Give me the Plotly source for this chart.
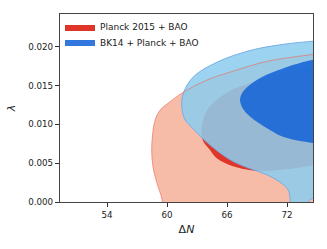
import plotly.graph_objects as go

# ---- data ----
# Planck 2015 + BAO, 95% contour (delta N, lambda)
planck95_x = [59.55, 59.5, 59.0, 58.6, 58.47, 58.55, 58.8, 59.3, 60.3, 61.47, 64.0, 66.63, 70.0, 74.6, 77.0, 77.0]
planck95_y = [-0.002, 0.0003, 0.0024, 0.0045, 0.0067, 0.0085, 0.0105, 0.0118, 0.0129, 0.0140, 0.0157, 0.01685, 0.0181, 0.0190, 0.0194, -0.002]
# Planck 2015 + BAO, 68% contour
planck68_x = [77.0, 74.6, 72.0, 70.0, 68.3, 66.6, 65.0, 64.1, 63.6, 63.45, 63.6, 64.3, 65.0, 66.6, 68.4, 70.0, 72.0, 74.6, 77.0]
planck68_y = [0.0178, 0.0174, 0.0167, 0.0160, 0.0153, 0.0145, 0.0132, 0.0120, 0.0105, 0.0090, 0.0079, 0.0067, 0.0056, 0.0046, 0.0041, 0.0040, 0.0042, 0.0047, 0.0050]
# BK14 + Planck + BAO, 95% contour
bk95_x = [72.35, 72.3, 72.13, 71.47, 70.0, 68.3, 66.63, 65.0, 63.63, 62.63, 61.8, 61.47, 61.63, 62.63, 65.0, 68.3, 71.63, 74.6, 77.0, 77.0, 74.6, 74.1, 73.7]
bk95_y = [-0.002, 0.0005, 0.0015, 0.0024, 0.0035, 0.0043, 0.0052, 0.0066, 0.0081, 0.0094, 0.0106, 0.0123, 0.0140, 0.0161, 0.0180, 0.0195, 0.0203, 0.0207, 0.0210, 0.0015, 0.0005, 0.0, -0.002]
# BK14 + Planck + BAO, 68% contour
bk68_x = [77.0, 74.6, 71.6, 70.0, 68.3, 67.6, 67.3, 67.6, 68.3, 70.0, 71.6, 74.6, 77.0]
bk68_y = [0.0187, 0.0183, 0.0172, 0.0164, 0.0151, 0.0142, 0.0132, 0.0120, 0.0110, 0.0095, 0.0084, 0.0076, 0.0073]

labels = ["Planck 2015 + BAO", "BK14 + Planck + BAO"]
x_ticks = [54, 60, 66, 72]
y_ticks = [0.000, 0.005, 0.010, 0.015, 0.020]

fig = go.Figure()
spl = dict(shape="spline", smoothing=1.0)

fig.add_trace(go.Scatter(x=planck95_x, y=planck95_y, mode="lines", fill="toself",
                         fillcolor="#f7bca8", line=dict(color="rgba(0,0,0,0)", width=0, **spl),
                         showlegend=False, hoverinfo="skip"))
fig.add_trace(go.Scatter(x=planck68_x, y=planck68_y, mode="lines", fill="toself",
                         fillcolor="#e0362a", line=dict(color="#e0362a", width=0, **spl),
                         name=labels[0], showlegend=True, legend="legend", hoverinfo="skip"))
fig.add_trace(go.Scatter(x=bk95_x, y=bk95_y, mode="lines", fill="toself",
                         fillcolor="rgba(141,204,238,0.87)", line=dict(color="#6ea8e6", width=0.9, **spl),
                         showlegend=False, hoverinfo="skip"))
fig.add_trace(go.Scatter(x=bk68_x, y=bk68_y, mode="lines", fill="toself",
                         fillcolor="rgba(20,100,215,0.87)", line=dict(color="rgba(0,0,0,0)", width=0, **spl),
                         name=labels[1], showlegend=True, legend="legend2", hoverinfo="skip"))
# Planck 95% outline on top
fig.add_trace(go.Scatter(x=planck95_x, y=planck95_y, mode="lines",
                         line=dict(color="rgba(232,110,95,0.75)", width=0.9, **spl),
                         showlegend=False, hoverinfo="skip"))

leg = dict(x=0.0, xanchor="left", yanchor="middle", bgcolor="rgba(0,0,0,0)",
           font=dict(size=9, family="DejaVu Sans", color="#222"), itemwidth=30)

fig.update_layout(
    width=327, height=249,
    margin=dict(l=60, r=14, t=14, b=47),
    paper_bgcolor="white", plot_bgcolor="white",
    font=dict(family="DejaVu Sans", size=9, color="#222"),
    legend=dict(y=0.931, **leg),
    legend2=dict(y=0.851, **leg),
    xaxis=dict(range=[49.3, 74.6], tickvals=x_ticks, ticks="outside", ticklen=4, tickcolor="#333",
               showline=True, linecolor="#444", linewidth=1.2, mirror=True, showgrid=False, zeroline=False,
               title=dict(text="Δ<i>N</i>", font=dict(size=11), standoff=6), tickfont=dict(size=8.7)),
    yaxis=dict(range=[0, 0.0242], tickvals=y_ticks, tickformat=".3f", ticks="outside", ticklen=4, tickcolor="#333",
               showline=True, linecolor="#444", linewidth=1.2, mirror=True, showgrid=False, zeroline=False,
               title=dict(text="<i>λ</i>", font=dict(size=11), standoff=10), tickfont=dict(size=8.7)),
)

fig.write_html("out.html", config={"displayModeBar": False},
               post_script="document.body.style.margin='0';document.body.style.padding='0';")
